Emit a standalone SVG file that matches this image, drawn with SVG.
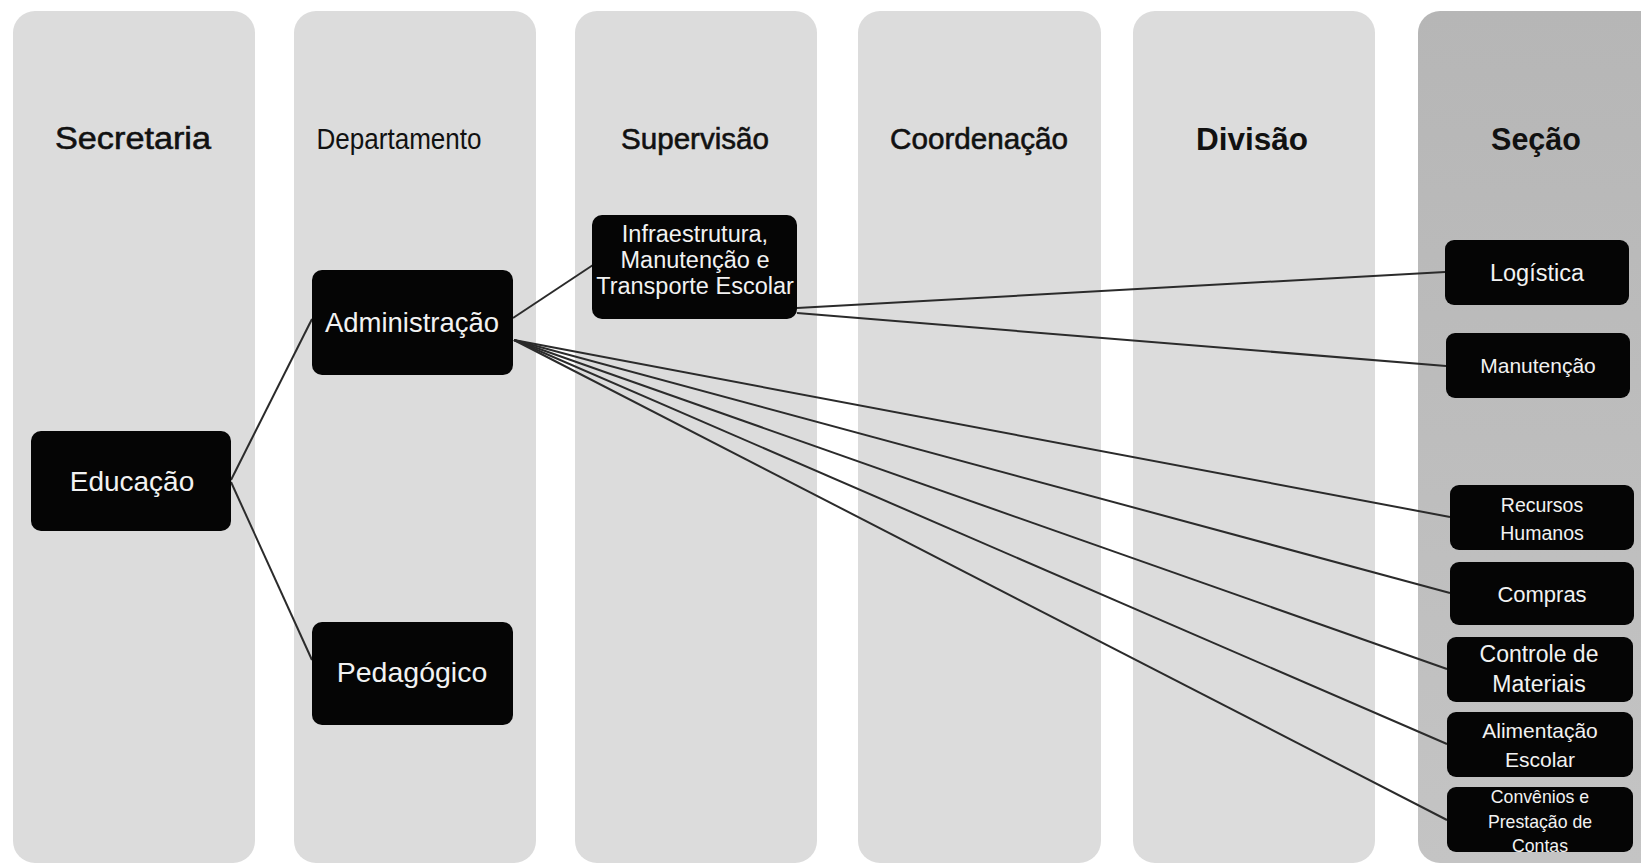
<svg xmlns="http://www.w3.org/2000/svg" width="1641" height="868" viewBox="0 0 1641 868">
  <defs>
    <linearGradient id="secGrad" x1="0" y1="0" x2="0" y2="1">
      <stop offset="0" stop-color="#b6b6b6"/>
      <stop offset="1" stop-color="#c4c4c4"/>
    </linearGradient>
    <style>
      .col { fill: #dcdcdc; }
      .colSec { fill: url(#secGrad); }
      .hdr { font-family: "Liberation Sans", Arial, sans-serif; fill: #111111; text-anchor: middle; }
      .semi { stroke: #111111; stroke-width: 0.6; }
      .node rect { fill: #050505; }
      .node text { font-family: "Liberation Sans", Arial, sans-serif; fill: #f2f2f2; text-anchor: middle; }
      .conn line { stroke: #2b2b2b; stroke-width: 2; fill: none; }
    </style>
  </defs>
  <rect width="1641" height="868" fill="#ffffff"/>

  <g id="columns">
    <rect class="col" x="13" y="11" width="242" height="852" rx="22"/>
    <rect class="col" x="294" y="11" width="242" height="852" rx="22"/>
    <rect class="col" x="575" y="11" width="242" height="852" rx="22"/>
    <rect class="col" x="858" y="11" width="243" height="852" rx="22"/>
    <rect class="col" x="1133" y="11" width="242" height="852" rx="22"/>
    <rect class="colSec" x="1418" y="11" width="250" height="852" rx="22"/>
  </g>

  <g id="headers">
    <text class="hdr semi" x="133" y="149" font-size="32" textLength="156" lengthAdjust="spacingAndGlyphs">Secretaria</text>
    <text class="hdr" x="399" y="149" font-size="30" textLength="165" lengthAdjust="spacingAndGlyphs">Departamento</text>
    <text class="hdr semi" x="695" y="149" font-size="30" textLength="148" lengthAdjust="spacingAndGlyphs">Supervisão</text>
    <text class="hdr semi" x="979" y="149" font-size="30" textLength="178" lengthAdjust="spacingAndGlyphs">Coordenação</text>
    <text class="hdr" x="1252" y="150" font-size="31.5" font-weight="bold">Divisão</text>
    <text class="hdr" x="1536" y="150" font-size="30.5" font-weight="bold">Seção</text>
  </g>

  <g id="connectors" class="conn">
    <line x1="231" y1="480" x2="312" y2="319"/>
    <line x1="231" y1="482" x2="312" y2="660"/>
    <line x1="513" y1="318" x2="593" y2="265"/>
    <line x1="797" y1="308" x2="1445" y2="272"/>
    <line x1="797" y1="313" x2="1446" y2="366"/>
    <line x1="514" y1="340" x2="1450" y2="517"/>
    <line x1="514" y1="340" x2="1450" y2="593"/>
    <line x1="514" y1="340" x2="1447" y2="669"/>
    <line x1="514" y1="340" x2="1447" y2="744"/>
    <line x1="514" y1="340" x2="1447" y2="820"/>
  </g>

  <g id="educacao" class="node">
    <rect x="31" y="431" width="200" height="100" rx="10"/>
    <text x="132" y="491" font-size="28">Educação</text>
  </g>
  <g id="administracao" class="node">
    <rect x="312" y="270" width="201" height="105" rx="10"/>
    <text x="412" y="332" font-size="27.5">Administração</text>
  </g>
  <g id="pedagogico" class="node">
    <rect x="312" y="622" width="201" height="103" rx="10"/>
    <text x="412" y="682" font-size="28.5">Pedagógico</text>
  </g>
  <g id="infraestrutura" class="node">
    <rect x="592" y="215" width="205" height="104" rx="10"/>
    <text x="695" y="242" font-size="23.5">Infraestrutura,</text>
    <text x="695" y="268" font-size="23.5">Manutenção e</text>
    <text x="695" y="294" font-size="23.5">Transporte Escolar</text>
  </g>
  <g id="logistica" class="node">
    <rect x="1445" y="240" width="184" height="65" rx="9"/>
    <text x="1537" y="281" font-size="23.5">Logística</text>
  </g>
  <g id="manutencao" class="node">
    <rect x="1446" y="333" width="184" height="65" rx="9"/>
    <text x="1538" y="373" font-size="21">Manutenção</text>
  </g>
  <g id="recursos-humanos" class="node">
    <rect x="1450" y="485" width="184" height="65" rx="9"/>
    <text x="1542" y="512" font-size="19.5">Recursos</text>
    <text x="1542" y="540" font-size="19.5">Humanos</text>
  </g>
  <g id="compras" class="node">
    <rect x="1450" y="562" width="184" height="63" rx="9"/>
    <text x="1542" y="602" font-size="22">Compras</text>
  </g>
  <g id="controle-materiais" class="node">
    <rect x="1447" y="637" width="186" height="65" rx="9"/>
    <text x="1539" y="662" font-size="23">Controle de</text>
    <text x="1539" y="692" font-size="23">Materiais</text>
  </g>
  <g id="alimentacao-escolar" class="node">
    <rect x="1447" y="712" width="186" height="65" rx="9"/>
    <text x="1540" y="738" font-size="21">Alimentação</text>
    <text x="1540" y="767" font-size="21">Escolar</text>
  </g>
  <g id="convenios" class="node">
    <rect x="1447" y="787" width="186" height="65" rx="9"/>
    <text x="1540" y="803" font-size="17.7">Convênios e</text>
    <text x="1540" y="828" font-size="17.7">Prestação de</text>
    <text x="1540" y="852" font-size="17.7">Contas</text>
  </g>
</svg>
